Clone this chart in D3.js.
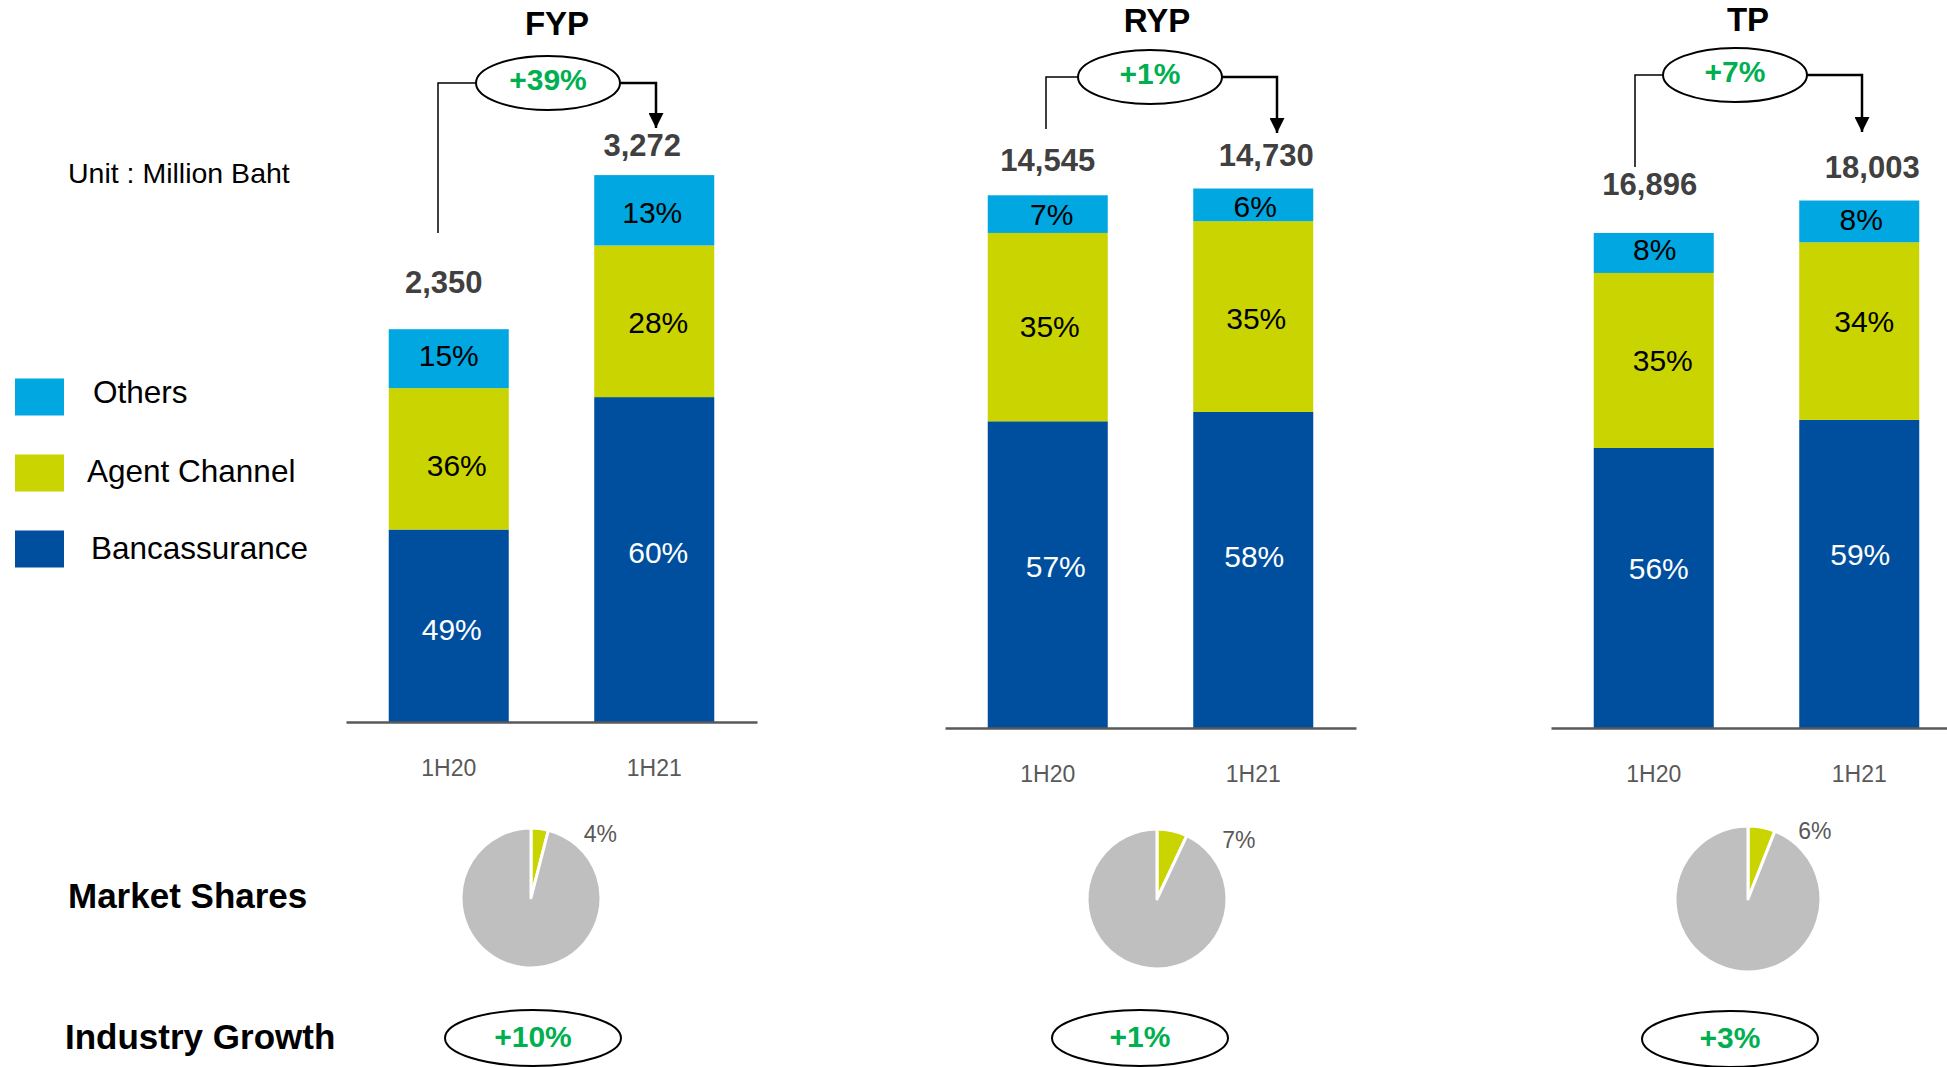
<!DOCTYPE html>
<html>
<head>
<meta charset="utf-8">
<script src="https://cdn.jsdelivr.net/npm/d3@7"></script>
<style>
  html, body { margin: 0; padding: 0; background: #fff; }
  svg { display: block; font-family: "Liberation Sans", Arial, sans-serif; }
</style>
</head>
<body>
<svg id="chart" width="1947" height="1067"></svg>
<script>
// ---- data (Million Baht) ----
const panelNames = ["FYP", "RYP", "TP"];
const periods = ["1H20", "1H21"];
const channels = ["Bancassurance", "Agent Channel", "Others"];
const totals = [[2350, 3272], [14545, 14730], [16896, 18003]];
const bancassurancePct = [[49, 60], [57, 58], [56, 59]];
const agentPct = [[36, 28], [35, 35], [35, 34]];
const othersPct = [[15, 13], [7, 6], [8, 8]];
const yoyGrowth = ["+39%", "+1%", "+7%"];
const marketSharePct = [4, 7, 6];
const industryGrowth = ["+10%", "+1%", "+3%"];
const axisMax = [3500, 16000, 20000];

// ---- styling ----
const colors = { "Bancassurance": "#004F9E", "Agent Channel": "#CAD400", "Others": "#00A7E1" };
const pieColors = ["#CAD400", "#BFBFBF"];
const green = "#00B050";
const keys = ["banca", "agent", "others"];
const keyChannel = { banca: "Bancassurance", agent: "Agent Channel", others: "Others" };

// ---- layout per panel ----
const layout = [
  { x0: 346,  base: 722, plotH: 585, title: [557, 35],  ell: [548, 83],  left: [438, 233],  right: [656, 128],
    totalNudge: [[-5, -36], [-12, -19]], pie: [531, 898, 70], pieLabel: [52, 4], ind: [533, 1038],
    // per period: [dx, dy] for banca, agent, others labels
    segNudge: [[[3, 3], [8, 6], [0, -3]], [[4, -7], [4, 1], [-2, 2]]] },
  { x0: 945,  base: 728, plotH: 586, title: [1157, 32], ell: [1150, 77], left: [1046, 129], right: [1277, 133],
    totalNudge: [[0, -24], [13, -23]], pie: [1157, 899, 70], pieLabel: [52, 4], ind: [1140, 1038],
    segNudge: [[[8, -8], [2, -1], [4, 0]], [[1, -14], [3, 2], [2, 1]]] },
  { x0: 1551, base: 728, plotH: 586, title: [1748, 31], ell: [1735, 75], left: [1635, 167], right: [1862, 132],
    totalNudge: [[-4, -38], [13, -23]], pie: [1748, 899, 73], pieLabel: [40, 0], ind: [1730, 1039],
    segNudge: [[[5, -20], [9, 0], [1, -4]], [[1, -20], [5, -10], [2, -2]]] }
];
const axisWidth = 411;

const svg = d3.select("#chart");

// arrow marker
svg.append("defs").append("marker")
  .attr("id", "arrowHead").attr("viewBox", "0 0 10 10")
  .attr("refX", 10).attr("refY", 5)
  .attr("markerWidth", 15).attr("markerHeight", 15)
  .attr("markerUnits", "userSpaceOnUse")
  .attr("orient", "auto")
  .append("path").attr("d", "M0,0 L10,5 L0,10 Z").attr("fill", "#000");

panelNames.forEach((name, p) => {
  const L = layout[p];
  const g = svg.append("g");

  const x = d3.scaleBand().domain(periods)
    .range([L.x0, L.x0 + axisWidth])
    .paddingInner(0.416).paddingOuter(0.208);
  const y = d3.scaleLinear().domain([0, axisMax[p]]).range([L.base, L.base - L.plotH]);

  // segment values: each channel's share of the period total
  const rows = periods.map((per, i) => {
    const s = bancassurancePct[p][i] + agentPct[p][i] + othersPct[p][i];
    const t = totals[p][i];
    return {
      period: per, idx: i, total: t,
      banca: t * bancassurancePct[p][i] / s,
      agent: t * agentPct[p][i] / s,
      others: t * othersPct[p][i] / s,
      pct: { banca: bancassurancePct[p][i], agent: agentPct[p][i], others: othersPct[p][i] }
    };
  });
  const series = d3.stack().keys(keys)(rows);

  series.forEach((s, k) => {
    const sg = g.append("g");
    sg.selectAll("rect").data(s).join("rect")
      .attr("x", d => x(d.data.period))
      .attr("width", x.bandwidth())
      .attr("y", d => y(d[1]))
      .attr("height", d => y(d[0]) - y(d[1]))
      .attr("fill", colors[keyChannel[s.key]]);
    sg.selectAll("text").data(s).join("text")
      .attr("x", d => x(d.data.period) + x.bandwidth() / 2 + L.segNudge[d.data.idx][k][0])
      .attr("y", d => (y(d[0]) + y(d[1])) / 2 + L.segNudge[d.data.idx][k][1])
      .attr("dy", "0.36em")
      .attr("text-anchor", "middle")
      .attr("font-size", 30)
      .attr("fill", s.key === "banca" ? "#fff" : "#000")
      .text(d => d.data.pct[s.key] + "%");
  });

  // baseline axis
  const axis = g.append("g").attr("transform", `translate(0,${L.base})`)
    .call(d3.axisBottom(x).tickSize(0).tickPadding(38));
  axis.select(".domain").attr("stroke", "#595959").attr("stroke-width", 2.5);
  axis.selectAll(".tick text")
    .attr("font-family", "Liberation Sans, Arial, sans-serif")
    .attr("font-size", 23).attr("fill", "#595959");

  // total labels
  g.selectAll("text.total").data(rows).join("text").attr("class", "total")
    .attr("x", (d, i) => x(d.period) + x.bandwidth() / 2 + L.totalNudge[i][0])
    .attr("y", (d, i) => y(d.total) + L.totalNudge[i][1])
    .attr("text-anchor", "middle")
    .attr("font-size", 31).attr("font-weight", "bold").attr("fill", "#404040")
    .text(d => d3.format(",")(d.total));

  // panel title
  g.append("text").attr("x", L.title[0]).attr("y", L.title[1])
    .attr("text-anchor", "middle").attr("font-size", 33).attr("font-weight", "bold")
    .attr("fill", "#000").text(name);

  // growth connector
  const rx = 72, ry = 27;
  const [ecx, ecy] = L.ell;
  g.append("path")
    .attr("d", `M${L.left[0]},${L.left[1]} V${ecy} H${ecx - rx}`)
    .attr("fill", "none").attr("stroke", "#000").attr("stroke-width", 1.5);
  g.append("path")
    .attr("d", `M${ecx + rx},${ecy} H${L.right[0]} V${L.right[1]}`)
    .attr("fill", "none").attr("stroke", "#000").attr("stroke-width", 2.5)
    .attr("marker-end", "url(#arrowHead)");
  g.append("ellipse").attr("cx", ecx).attr("cy", ecy).attr("rx", rx).attr("ry", ry)
    .attr("fill", "#fff").attr("stroke", "#000").attr("stroke-width", 2);
  g.append("text").attr("x", ecx).attr("y", ecy - 4).attr("dy", "0.36em")
    .attr("text-anchor", "middle").attr("font-size", 30).attr("font-weight", "bold")
    .attr("fill", green).text(yoyGrowth[p]);

  // market share pie
  const [pcx, pcy, pr] = L.pie;
  const share = marketSharePct[p];
  const arcs = d3.pie().sort(null)([share, 100 - share]);
  const arc = d3.arc().innerRadius(0).outerRadius(pr);
  const pg = g.append("g").attr("transform", `translate(${pcx},${pcy})`);
  pg.selectAll("path").data(arcs).join("path")
    .attr("d", arc)
    .attr("fill", (d, i) => pieColors[i])
    .attr("stroke", "#fff").attr("stroke-width", 3).attr("stroke-linejoin", "round");
  const endA = arcs[0].endAngle;
  pg.append("text")
    .attr("x", pr * Math.sin(endA) + L.pieLabel[0])
    .attr("y", -pr * Math.cos(endA) + L.pieLabel[1])
    .attr("dy", "0.36em").attr("text-anchor", "middle")
    .attr("font-size", 23).attr("fill", "#595959")
    .text(share + "%");

  // industry growth badge
  const [icx, icy] = L.ind;
  g.append("ellipse").attr("cx", icx).attr("cy", icy).attr("rx", 88).attr("ry", 28)
    .attr("fill", "#fff").attr("stroke", "#000").attr("stroke-width", 2);
  g.append("text").attr("x", icx).attr("y", icy - 2).attr("dy", "0.36em")
    .attr("text-anchor", "middle").attr("font-size", 30).attr("font-weight", "bold")
    .attr("fill", green).text(industryGrowth[p]);
});

// unit note
svg.append("text").attr("x", 68).attr("y", 183)
  .attr("font-size", 28.5).attr("fill", "#000").text("Unit : Million Baht");

// legend (top to bottom: Others, Agent Channel, Bancassurance)
const legendOrder = channels.slice().reverse();
const legendTextX = [93, 87, 91];
const legendTextDy = [-5, -2, -1];
const legend = svg.append("g");
legendOrder.forEach((c, i) => {
  const cy = 397 + i * 76;
  legend.append("rect").attr("x", 15).attr("y", cy - 18.5).attr("width", 49).attr("height", 37)
    .attr("fill", colors[c]);
  legend.append("text").attr("x", legendTextX[i]).attr("y", cy + legendTextDy[i]).attr("dy", "0.36em")
    .attr("font-size", 31.5).attr("fill", "#000").text(c);
});

// row headings
svg.append("text").attr("x", 68).attr("y", 908)
  .attr("font-size", 35).attr("font-weight", "bold").attr("fill", "#000").text("Market Shares");
svg.append("text").attr("x", 65).attr("y", 1049)
  .attr("font-size", 35).attr("font-weight", "bold").attr("fill", "#000").text("Industry Growth");
</script>
</body>
</html>
